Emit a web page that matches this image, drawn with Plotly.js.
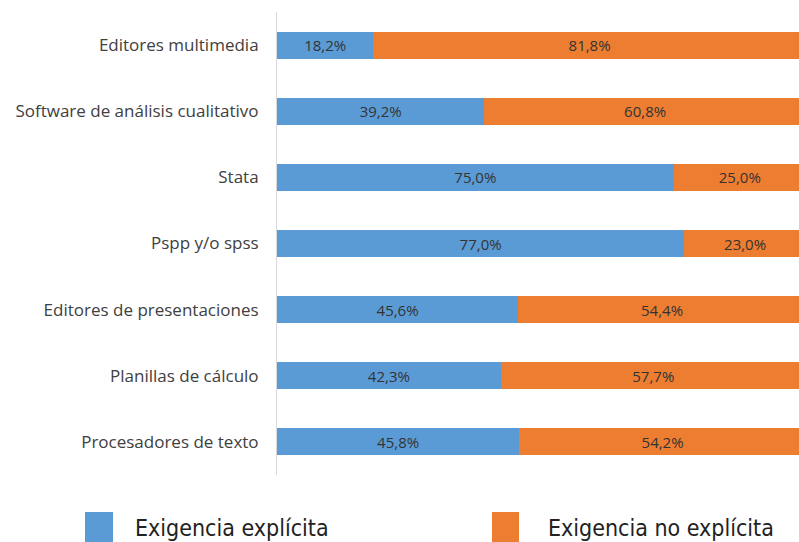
<!DOCTYPE html>
<html>
<head>
<meta charset="utf-8">
<script src="https://cdn.plot.ly/plotly-3.0.1.min.js"></script>
<style>html,body{margin:0;padding:0;background:#fff;}#chart{width:799px;height:542px;}</style>
</head>
<body>
<div id="chart"></div>
<script>
var categories = ["Editores multimedia", "Software de análisis cualitativo", "Stata", "Pspp y/o spss", "Editores de presentaciones", "Planillas de cálculo", "Procesadores de texto"];
var explicita = [18.2, 39.2, 75.0, 77.0, 45.6, 42.3, 45.8];
var noExplicita = [81.8, 60.8, 25.0, 23.0, 54.4, 57.7, 54.2];
var seriesNames = ["Exigencia explícita", "Exigencia no explícita"];
var colors = ["#5b9bd5", "#ed7d31"];

function fmt(v){ return v.toFixed(1).replace('.', ',') + '%'; }

var labelFont = {family: "Open Sans, sans-serif", size: 15, color: "#333333"};

var traces = [
  {type: 'bar', orientation: 'h', name: seriesNames[0], y: categories, x: explicita,
   marker: {color: colors[0]}, text: explicita.map(fmt), textposition: 'inside', insidetextanchor: 'middle',
   textfont: labelFont, constraintext: 'none', hoverinfo: 'none', showlegend: false},
  {type: 'bar', orientation: 'h', name: seriesNames[1], y: categories, x: noExplicita,
   marker: {color: colors[1]}, text: noExplicita.map(fmt), textposition: 'inside', insidetextanchor: 'middle',
   textfont: labelFont, constraintext: 'none', hoverinfo: 'none', showlegend: false}
];

var legendFont = {family: "DejaVu Sans Condensed, Liberation Sans Narrow, Liberation Sans, sans-serif", size: 23, color: "#222"};

var layout = {
  width: 799, height: 542,
  margin: {l: 277, r: 0, t: 12, b: 67},
  barmode: 'stack',
  bargap: 0.59,
  paper_bgcolor: '#fff', plot_bgcolor: '#fff',
  xaxis: {range: [0, 98.7], showgrid: false, zeroline: false, showticklabels: false, ticks: '', fixedrange: true},
  yaxis: {autorange: 'reversed', showline: true, linecolor: '#d9d9d9', linewidth: 1, ticks: '',
          ticklabelstandoff: 14, tickfont: {family: "Open Sans, sans-serif", size: 17, color: "#404040"}, showgrid: false},
  shapes: [
    {type: 'rect', xref: 'paper', yref: 'paper', x0: -0.3678, x1: -0.3142, y0: -0.0799, y1: -0.1447, fillcolor: colors[0], line: {width: 0}},
    {type: 'rect', xref: 'paper', yref: 'paper', x0: 0.4119, x1: 0.4636, y0: -0.0799, y1: -0.1447, fillcolor: colors[1], line: {width: 0}}
  ],
  annotations: [
    {xref: 'paper', yref: 'paper', x: -0.276, y: -0.114, xanchor: 'left', yanchor: 'middle', showarrow: false,
     text: seriesNames[0], font: legendFont},
    {xref: 'paper', yref: 'paper', x: 0.515, y: -0.114, xanchor: 'left', yanchor: 'middle', showarrow: false,
     text: seriesNames[1], font: legendFont}
  ]
};

Plotly.newPlot('chart', traces, layout, {displayModeBar: false, staticPlot: true});
</script>
</body>
</html>
